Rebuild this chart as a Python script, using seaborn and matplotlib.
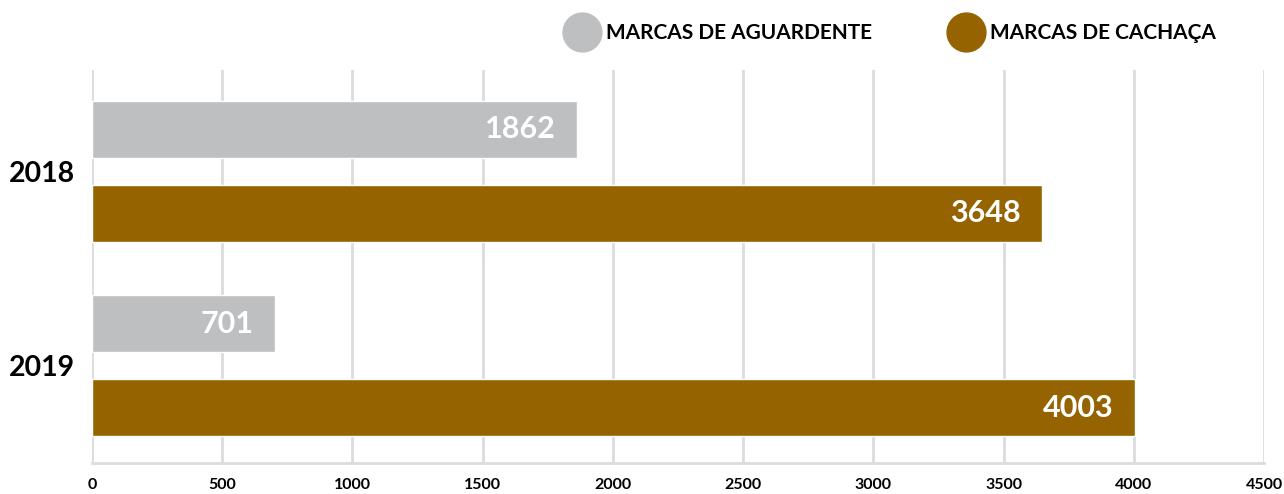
import pandas as pd
import matplotlib.pyplot as plt
from matplotlib.lines import Line2D
import seaborn as sns

years = ['2018', '2019']
aguardente = [1862, 701]
cachaca = [3648, 4003]
series = ['MARCAS DE AGUARDENTE', 'MARCAS DE CACHAÇA']
colors = ['#bebfc1', '#956400']
xticks = [0, 500, 1000, 1500, 2000, 2500, 3000, 3500, 4000, 4500]

df = pd.DataFrame({
    'year': years * 2,
    'value': aguardente + cachaca,
    'serie': [series[0]] * 2 + [series[1]] * 2,
})

sns.set_style('white')
plt.rcParams['font.family'] = ['Lato', 'DejaVu Sans']
plt.rcParams['text.color'] = 'black'

fig = plt.figure(figsize=(12.84, 4.94), dpi=100)
ax = fig.add_axes([0.0717, 0.0628, 0.9127, 0.7952])

sns.barplot(data=df, x='value', y='year', hue='serie', palette=colors,
            saturation=1, orient='h', width=0.86, gap=0.32, legend=False,
            ax=ax, zorder=3)

# value labels inside bar ends
for cont in ax.containers:
    ax.bar_label(cont, padding=-15, color='white', fontsize=22,
                 fontweight='bold', label_type='edge')
for t in ax.texts:
    t.set_horizontalalignment('right')

ax.set_xlim(0, 4500)
ax.set_ylim(1.5, -0.52)
ax.set_xticks(xticks)
ax.set_xticklabels([str(v) for v in xticks], fontsize=11.5, fontweight='bold',
                   color='black')
ax.tick_params(axis='x', length=0, pad=11)
ax.tick_params(axis='y', length=0, pad=12)
for lab in ax.get_yticklabels():
    lab.set_fontsize(20.5)
    lab.set_fontweight('bold')
    lab.set_color('black')
    lab.set_verticalalignment('center_baseline')
ax.set_xlabel('')
ax.set_ylabel('')
ax.grid(axis='x', color='#dcdcdc', linewidth=2, zorder=0)
for s in ['top', 'right', 'left']:
    ax.spines[s].set_visible(False)
ax.spines['bottom'].set_color('#dcdcdc')
ax.spines['bottom'].set_linewidth(2)

handles = [Line2D([], [], marker='o', linestyle='', markersize=28,
                  markerfacecolor=c, markeredgecolor=c) for c in colors]
leg = fig.legend(handles, series, loc='center', bbox_to_anchor=(0.692, 0.933),
                 ncol=2, frameon=False, columnspacing=3.5, handletextpad=0.15,
                 prop={'weight': 'bold', 'size': 15})

fig.savefig('out.png', dpi=100)
